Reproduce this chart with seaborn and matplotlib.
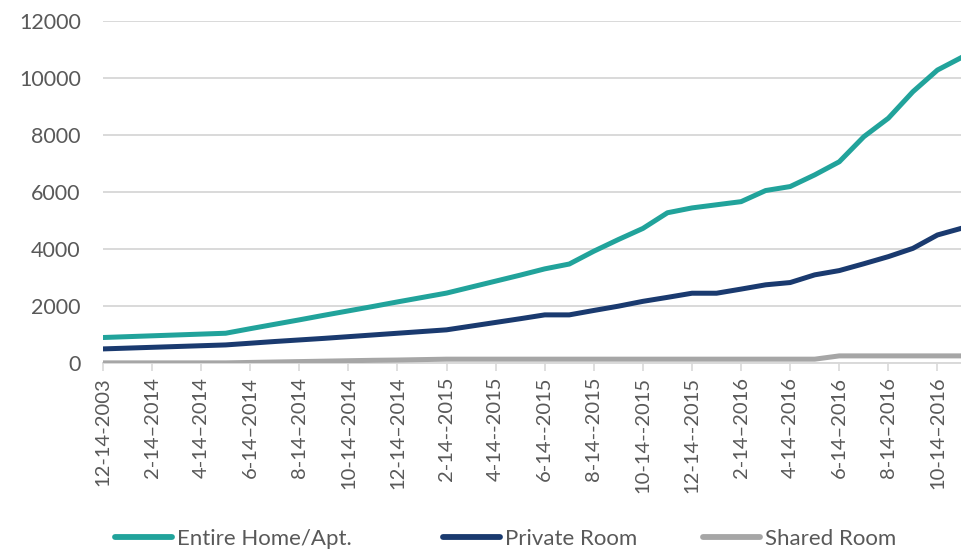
import pandas as pd
import numpy as np
import matplotlib.pyplot as plt
import seaborn as sns

# monthly values, 12-14-2013 .. 11-14-2016
entire_home = [890, 920, 950, 980, 1010, 1040, 1200, 1355, 1510, 1670,
               1825, 1980, 2140, 2295, 2450, 2660, 2870, 3080, 3300, 3470,
               3920, 4330, 4720, 5270, 5440, 5550, 5660, 6050, 6190, 6600,
               7060, 7940, 8590, 9520, 10280, 10730]
private_room = [490, 518, 546, 574, 602, 630, 690, 750, 805, 860,
                920, 980, 1040, 1100, 1160, 1290, 1420, 1550, 1685, 1685,
                1840, 1990, 2160, 2300, 2445, 2445, 2590, 2740, 2820, 3090,
                3240, 3480, 3730, 4020, 4490, 4730]
shared_room = [0, 0, 0, 0, 0, 0, 15, 30, 45, 60,
               75, 90, 100, 115, 130, 130, 130, 130, 130, 130,
               130, 130, 130, 130, 130, 130, 130, 130, 130, 130,
               245, 245, 245, 245, 245, 245]

tick_labels = ["12-14-2003", "2-14\u20132014", "4-14\u20132014", "6-14\u20132014",
               "8-14\u20132014", "10-14\u20132014", "12-14\u20132014", "2-14--2015",
               "4-14--2015", "6-14--2015", "8-14--2015", "10-14--2015",
               "12-14--2015", "2-14\u20132016", "4-14\u20132016", "6-14\u20132016",
               "8-14\u20132016", "10-14\u20132016"]

series_names = ["Entire Home/Apt.", "Private Room", "Shared Room"]
colors = ["#21a39b", "#1a3a6f", "#a6a6a6"]

df = pd.DataFrame({
    "month": np.arange(len(entire_home)),
    "Entire Home/Apt.": entire_home,
    "Private Room": private_room,
    "Shared Room": shared_room,
})
long_df = df.melt(id_vars="month", var_name="type", value_name="listings")

sns.set_style("white")
plt.rcParams["font.family"] = ["Lato", "DejaVu Sans"]

fig = plt.figure(figsize=(9.62, 5.54), dpi=100)
ax = fig.add_axes([0.107, 0.345, 0.893, 0.617])

sns.lineplot(data=long_df, x="month", y="listings", hue="type",
             hue_order=series_names[::-1], palette=dict(zip(series_names, colors)),
             linewidth=3.6, ax=ax, legend=False, zorder=3)

ax.set_xlim(0, len(entire_home) - 1)
ax.set_ylim(0, 12000)
ax.set_yticks(range(0, 12001, 2000))
ax.yaxis.grid(True, color="#d9d9d9", linewidth=1.4)
ax.set_axisbelow(True)
ax.set_xticks(range(0, len(entire_home), 2))
ax.set_xticklabels(tick_labels, rotation=90)
ax.set_xlabel("")
ax.set_ylabel("")

for side in ["top", "right", "left"]:
    ax.spines[side].set_visible(False)
ax.spines["bottom"].set_color("#d9d9d9")
ax.spines["bottom"].set_linewidth(1.4)

ax.tick_params(axis="x", colors="#595959", labelsize=14.5, length=6, width=1.2,
               direction="out", bottom=True, pad=4)
ax.tick_params(axis="x", color="#d9d9d9")
ax.tick_params(axis="y", colors="#595959", labelsize=15.5, length=0, pad=16)

# legend entries sit in Excel-style slots along the bottom
legend_x = [115, 443, 703]
for name, c, lx in zip(series_names, colors, legend_x):
    h = plt.Line2D([], [], color=c, linewidth=4.2, solid_capstyle="round")
    fig.legend([h], [name], loc="center left", bbox_to_anchor=(lx / 962, 0.027),
               frameon=False, fontsize=16, handlelength=2.55, handletextpad=0.25,
               borderpad=0, borderaxespad=0, labelcolor="#595959")

fig.savefig("out.png", dpi=100)
